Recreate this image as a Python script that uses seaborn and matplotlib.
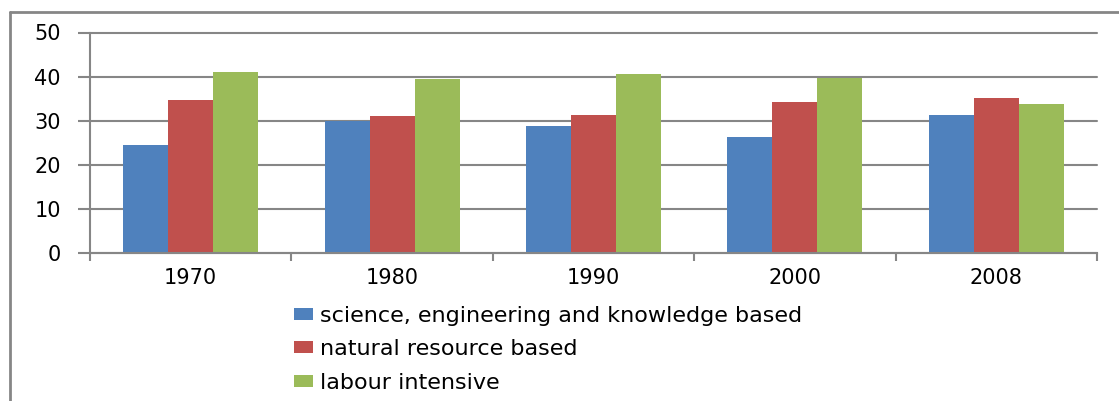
import matplotlib
matplotlib.use("Agg")
import matplotlib.pyplot as plt
from matplotlib.lines import Line2D
import seaborn as sns
import pandas as pd

years = ["1970", "1980", "1990", "2000", "2008"]
series_names = ["science, engineering and knowledge based",
                "natural resource based",
                "labour intensive"]
science = [24.5, 29.9, 28.8, 26.3, 31.3]
natural = [34.7, 31.1, 31.3, 34.2, 35.1]
labour = [41.0, 39.5, 40.6, 39.7, 33.8]
colors = ["#4F81BD", "#C0504D", "#9BBB59"]
yticks = [0, 10, 20, 30, 40, 50]

rows = []
for name, vals in zip(series_names, [science, natural, labour]):
    for y, v in zip(years, vals):
        rows.append({"year": y, "series": name, "value": v})
df = pd.DataFrame(rows)

sns.set_theme(style="white")
plt.rcParams['font.family'] = ['DejaVu Sans']

fig = plt.figure(figsize=(11.19, 4.01), dpi=100)
fig.patch.set_facecolor("white")
ax = fig.add_axes([90/1119, 1-253/401, (1097-90)/1119, (253-32.5)/401])

sns.barplot(data=df, x="year", y="value", hue="series", order=years,
            hue_order=series_names, palette=colors, width=0.67, gap=0,
            saturation=1, ax=ax, legend=True, errorbar=None, linewidth=0)

grid_c = "#868686"
ax.set_ylim(0, 50)
ax.set_xlim(-0.5, len(years) - 0.5)
ax.set_yticks(yticks)
ax.set_yticklabels([str(t) for t in yticks])
ax.yaxis.grid(True, color=grid_c, linewidth=1.5)
for gl in ax.get_ygridlines():
    gl.set_clip_on(False)
ax.set_axisbelow(True)
ax.set_xlabel("")
ax.set_ylabel("")
for s in ["top", "right"]:
    ax.spines[s].set_visible(False)
for s in ["left", "bottom"]:
    ax.spines[s].set_color(grid_c)
    ax.spines[s].set_linewidth(1.5)

ax.set_xticks([i - 0.5 for i in range(len(years) + 1)], minor=True)
ax.tick_params(axis="x", which="major", length=0, pad=11, labelsize=15, labelcolor="black")
ax.tick_params(axis="x", which="minor", length=6, width=1.5, color=grid_c, direction="out", bottom=True)
ax.tick_params(axis="y", which="major", length=9, width=1.5, color=grid_c, direction="out", left=True,
               labelsize=15, pad=12, labelcolor="black")

handles, labels = ax.get_legend_handles_labels()
ax.get_legend().remove()
leg = fig.legend(handles, labels, loc="upper left", bbox_to_anchor=(294/1119, 1-306/401),
                 frameon=False, fontsize=16, handlelength=0.85, handleheight=0.45,
                 handletextpad=0.3, labelspacing=0.6, borderpad=0, borderaxespad=0)
for t in leg.get_texts():
    t.set_color("black")

# outer chart border (left and top)
fig.add_artist(Line2D([10/1119, 10/1119], [0, 1-12/401], transform=fig.transFigure,
                      color=grid_c, linewidth=2))
fig.add_artist(Line2D([10/1119, 1], [1-12/401, 1-12/401], transform=fig.transFigure,
                      color=grid_c, linewidth=2))

fig.savefig("out.png", dpi=100, facecolor="white")
